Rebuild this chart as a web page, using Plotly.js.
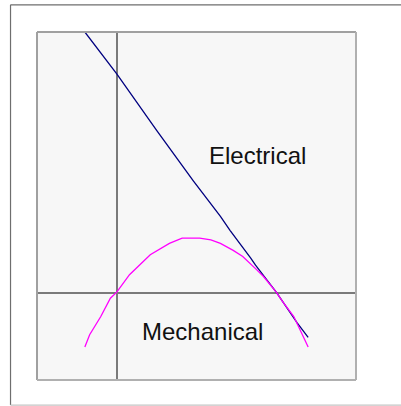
<!DOCTYPE html>
<html>
<head>
<meta charset="utf-8">
<script src="https://cdn.plot.ly/plotly-3.0.1.min.js"></script>
<style>
  html, body { margin: 0; padding: 0; background: #fff; }
  #chart { width: 401px; height: 406px; }
</style>
</head>
<body>
<div id="chart"></div>
<script>
// values (speed ratio on x, power on y)
const elecX = [-0.20, 0.00, 0.25, 0.48, 0.65, 0.71, 0.84, 0.87, 1.00, 1.13, 1.20];
const elecY = [3.00, 2.52, 1.87, 1.29, 0.88, 0.72, 0.40, 0.32, 0.01, -0.34, -0.51];

const mechX = [-0.20, -0.17, -0.10, -0.04, 0.00, 0.08, 0.21, 0.33, 0.41, 0.52, 0.59,
               0.65, 0.73, 0.79, 0.87, 0.92, 1.00, 1.04, 1.11, 1.16, 1.20];
const mechY = [-0.62, -0.48, -0.27, -0.06, 0.01, 0.21, 0.44, 0.57, 0.63, 0.63, 0.61,
               0.57, 0.49, 0.42, 0.28, 0.19, 0.01, -0.10, -0.27, -0.46, -0.62];

const labels = ["Electrical", "Mechanical"];
const labelX = [0.88, 0.54];
const labelY = [1.58, -0.44];

const traces = [
  {
    x: elecX, y: elecY,
    mode: 'lines',
    name: labels[0],
    line: { color: '#000080', width: 1.3 }
  },
  {
    x: mechX, y: mechY,
    mode: 'lines',
    name: labels[1],
    line: { color: '#ff00ff', width: 1.3 }
  }
];

const layout = {
  width: 401,
  height: 406,
  margin: { l: 37, r: 45, t: 32, b: 26 },
  paper_bgcolor: '#ffffff',
  plot_bgcolor: '#f7f7f7',
  showlegend: false,
  font: { family: 'Liberation Sans, Arial, sans-serif', color: '#000' },
  xaxis: {
    range: [-0.5, 1.5],
    showgrid: false,
    showticklabels: false,
    ticks: '',
    zeroline: true,
    zerolinecolor: '#7a7a7a',
    zerolinewidth: 1.5,
    showline: false
  },
  yaxis: {
    range: [-1, 3],
    showgrid: false,
    showticklabels: false,
    ticks: '',
    zeroline: true,
    zerolinecolor: '#7a7a7a',
    zerolinewidth: 1.5,
    showline: false
  },
  annotations: labels.map((t, i) => ({
    x: labelX[i], y: labelY[i],
    xref: 'x', yref: 'y',
    text: t,
    showarrow: false,
    font: { size: 24, color: '#111' },
    xanchor: 'center',
    yanchor: 'middle'
  })),
  shapes: [
    // plot frame
    { type: 'line', xref: 'paper', yref: 'paper', x0: 0, x1: 1, y0: 1, y1: 1, line: { color: '#a0a0a0', width: 2 } },
    { type: 'line', xref: 'paper', yref: 'paper', x0: 0, x1: 0, y0: 0, y1: 1, line: { color: '#a0a0a0', width: 2 } },
    { type: 'line', xref: 'paper', yref: 'paper', x0: 1, x1: 1, y0: 0, y1: 1, line: { color: '#b0b0b0', width: 2 } },
    { type: 'line', xref: 'paper', yref: 'paper', x0: 0, x1: 1, y0: 0, y1: 0, line: { color: '#b0b0b0', width: 2 } },
    // outer frame (open on the right, runs off the page)
    { type: 'line', xref: 'paper', yref: 'paper', x0: -0.083, x1: 1.2, y0: 1.078, y1: 1.078, line: { color: '#6e6e6e', width: 1.2 } },
    { type: 'line', xref: 'paper', yref: 'paper', x0: -0.083, x1: -0.083, y0: -0.072, y1: 1.078, line: { color: '#6e6e6e', width: 1.2 } },
    { type: 'line', xref: 'paper', yref: 'paper', x0: -0.083, x1: 1.2, y0: -0.072, y1: -0.072, line: { color: '#c4c4c4', width: 1.2 } }
  ]
};

Plotly.newPlot('chart', traces, layout, { staticPlot: true, displayModeBar: false });
</script>
</body>
</html>
